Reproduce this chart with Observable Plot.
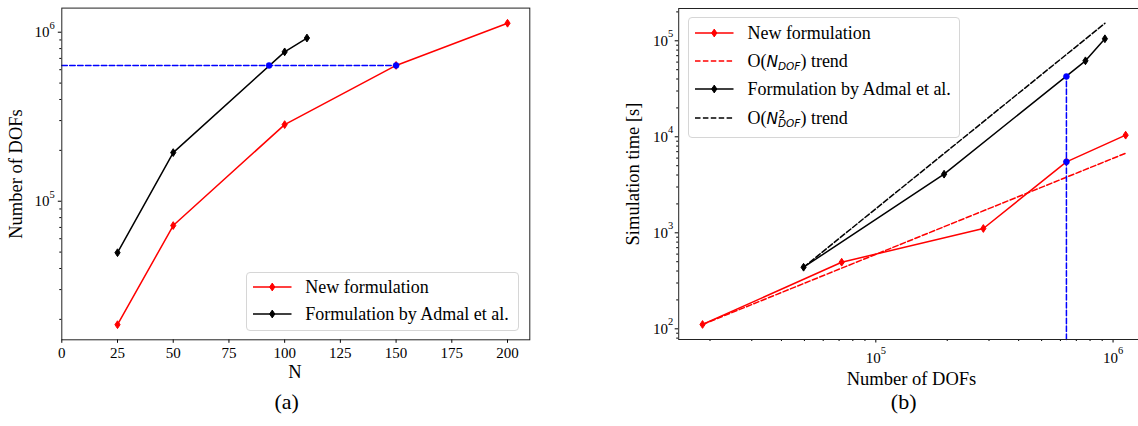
<!DOCTYPE html>
<html><head><meta charset="utf-8">
<script src="https://cdn.jsdelivr.net/npm/d3@7"></script>
<script src="https://cdn.jsdelivr.net/npm/@observablehq/plot@0.6"></script>
<style>
html,body{margin:0;padding:0;background:#fff;overflow:hidden;}
#page{position:relative;width:1138px;height:426px;overflow:hidden;font-family:"Liberation Serif","DejaVu Serif","Times New Roman",serif;color:#000;}
#page svg.plot{position:absolute;top:0;}
.lbl{position:absolute;font-size:18.5px;white-space:nowrap;transform:translate(-50%,-50%);line-height:1;}
.ylbl{transform:translate(-50%,-50%) rotate(-90deg);}
.cap{position:absolute;font-size:22px;transform:translate(-50%,-50%);line-height:1;}
.legend{position:absolute;border:1px solid #d6d6d6;border-radius:4px;background:rgba(255,255,255,0.85);box-sizing:border-box;}
.sample{position:absolute;overflow:visible;}
.ltext{position:absolute;font-size:18px;white-space:nowrap;transform:translateY(-50%);line-height:1;}
.mi{font-family:"DejaVu Sans",sans-serif;font-style:italic;font-size:15.5px;}
.sub{font-family:"DejaVu Sans",sans-serif;font-style:italic;font-size:10.5px;position:relative;top:3px;}
.sd{display:inline-block;font-family:"DejaVu Sans",sans-serif;font-style:italic;font-size:10.5px;line-height:8px;height:8px;position:relative;top:3px;}
.s2{position:absolute;left:0.5px;top:-8.1px;display:block;line-height:7px;height:7px;font-family:"DejaVu Sans",sans-serif;font-style:normal;font-size:10.5px;}
</style>
</head><body>
<div id="page"></div>
<script>
// ---------- data ----------
const nValues   = [25, 50, 100, 150, 200];
const newDofs   = [18600, 71800, 284000, 636000, 1130000];
const newTime   = [111, 494, 1109, 5490, 10400];
const admalN    = [25, 50, 100, 110];
const admalDofs = [49600, 194000, 765000, 924000];
const admalTime = [438, 4080, 61900, 105000];
const linTrendDofs  = [18600, 1130000];
const linTrendTime  = [111, 6740];
const quadTrendDofs = [49600, 924000];
const quadTrendTime = [438, 152000];
const equalDofs = 636000;
const equalN    = [93, 150];      // Admal, New at equal DOFs
const equalTime = [42500, 5490];  // Admal, New at equal DOFs

// ---------- ticks ----------
const xTicksA  = [0, 25, 50, 75, 100, 125, 150, 175, 200];
const yMajorA  = [1e5, 1e6];
const yMinorA  = [2e4, 3e4, 4e4, 5e4, 6e4, 7e4, 8e4, 9e4, 2e5, 3e5, 4e5, 5e5, 6e5, 7e5, 8e5, 9e5];
const xMajorB  = [1e5, 1e6];
const xMinorB  = [2e4, 3e4, 4e4, 5e4, 6e4, 7e4, 8e4, 9e4, 2e5, 3e5, 4e5, 5e5, 6e5, 7e5, 8e5, 9e5];
const yMajorB  = [1e2, 1e3, 1e4, 1e5];
const yMinorB  = [80, 90, 200, 300, 400, 500, 600, 700, 800, 900, 2000, 3000, 4000, 5000, 6000, 7000, 8000, 9000,
                  20000, 30000, 40000, 50000, 60000, 70000, 80000, 90000, 200000];

const RED = "#ff0000", BLACK = "#000000", BLUE = "#0000ff";
const DASH = "5.5,2.4";

const diamond = {draw(ctx) { const h = 3.9, w = 2.6; ctx.moveTo(0, -h); ctx.lineTo(w, 0); ctx.lineTo(0, h); ctx.lineTo(-w, 0); ctx.closePath(); }};
const pow10 = d => "10^" + Math.round(Math.log10(d));

const newA   = nValues.map((n, i) => ({x: n, y: newDofs[i]}));
const admalA = admalN.map((n, i) => ({x: n, y: admalDofs[i]}));
const blueLineA = [{x: 0, y: equalDofs}, {x: equalN[1], y: equalDofs}];
const bluePtsA  = equalN.map(n => ({x: n, y: equalDofs}));

const newB   = newDofs.map((d, i) => ({x: d, y: newTime[i]}));
const admalB = admalDofs.map((d, i) => ({x: d, y: admalTime[i]}));
const linB   = linTrendDofs.map((d, i) => ({x: d, y: linTrendTime[i]}));
const quadB  = quadTrendDofs.map((d, i) => ({x: d, y: quadTrendTime[i]}));
const yDomB  = [77.4, 217000];
const blueLineB = [{x: equalDofs, y: yDomB[0]}, {x: equalDofs, y: equalTime[0]}];
const bluePtsB  = equalTime.map(t => ({x: equalDofs, y: t}));

const baseStyle = {fontFamily: "'Liberation Serif', 'DejaVu Serif', 'Times New Roman', serif", fontSize: "15px", background: "transparent", overflow: "visible", color: "#000"};

const plotA = Plot.plot({
  width: 540, height: 380,
  marginLeft: 61.3, marginRight: 10.7, marginTop: 7.6, marginBottom: 40.7,
  style: baseStyle,
  x: {domain: [0, 210]},
  y: {type: "log", domain: [15140, 1389000]},
  marks: [
    Plot.axisX({ticks: xTicksA, tickSize: 3.5, tickPadding: 4, tickFormat: d => String(d), label: null}),
    Plot.axisY({ticks: yMajorA, tickSize: 3.5, tickPadding: 3.5, tickFormat: pow10, label: null}),
    Plot.axisY({ticks: yMinorA, tickSize: 2, tickFormat: () => "", label: null}),
    Plot.line(admalA, {x: "x", y: "y", stroke: BLACK, strokeWidth: 1.5}),
    Plot.dot(admalA, {x: "x", y: "y", symbol: diamond, fill: BLACK, stroke: BLACK, strokeWidth: 1}),
    Plot.line(newA, {x: "x", y: "y", stroke: RED, strokeWidth: 1.5}),
    Plot.dot(newA, {x: "x", y: "y", symbol: diamond, fill: RED, stroke: RED, strokeWidth: 1}),
    Plot.line(blueLineA, {x: "x", y: "y", stroke: BLUE, strokeWidth: 1.5, strokeDasharray: DASH}),
    Plot.dot(bluePtsA, {x: "x", y: "y", r: 3, fill: BLUE, stroke: BLUE, strokeWidth: 0.5}),
    Plot.frame({stroke: "#222", strokeWidth: 1})
  ]
});

const plotB = Plot.plot({
  width: 600, height: 380,
  marginLeft: 118.2, marginRight: 13.6, marginTop: 8, marginBottom: 41,
  style: baseStyle,
  x: {type: "log", domain: [14760, 1389000]},
  y: {type: "log", domain: yDomB},
  marks: [
    Plot.axisX({ticks: xMajorB, tickSize: 3.5, tickPadding: 9, tickFormat: pow10, label: null}),
    Plot.axisX({ticks: xMinorB, tickSize: 2, tickFormat: () => "", label: null}),
    Plot.axisY({ticks: yMajorB, tickSize: 3.5, tickPadding: 2, tickFormat: pow10, label: null}),
    Plot.axisY({ticks: yMinorB, tickSize: 2, tickFormat: () => "", label: null}),
    Plot.line(quadB, {x: "x", y: "y", stroke: BLACK, strokeWidth: 1.5, strokeDasharray: DASH}),
    Plot.line(linB, {x: "x", y: "y", stroke: RED, strokeWidth: 1.5, strokeDasharray: DASH}),
    Plot.line(admalB, {x: "x", y: "y", stroke: BLACK, strokeWidth: 1.5}),
    Plot.dot(admalB, {x: "x", y: "y", symbol: diamond, fill: BLACK, stroke: BLACK, strokeWidth: 1}),
    Plot.line(newB, {x: "x", y: "y", stroke: RED, strokeWidth: 1.5}),
    Plot.dot(newB, {x: "x", y: "y", symbol: diamond, fill: RED, stroke: RED, strokeWidth: 1}),
    Plot.line(blueLineB, {x: "x", y: "y", stroke: BLUE, strokeWidth: 1.5, strokeDasharray: DASH}),
    Plot.dot(bluePtsB, {x: "x", y: "y", r: 3, fill: BLUE, stroke: BLUE, strokeWidth: 0.5}),
    Plot.frame({stroke: "#222", strokeWidth: 1})
  ]
});

const NS = "http://www.w3.org/2000/svg";
function supify(svg) {
  svg.querySelectorAll("text").forEach(t => {
    const m = /^10\^(-?\d+)$/.exec(t.textContent);
    if (!m) return;
    t.textContent = "";
    const a = document.createElementNS(NS, "tspan"); a.textContent = "10";
    const b = document.createElementNS(NS, "tspan"); b.textContent = m[1];
    b.setAttribute("font-size", "10.5px"); b.setAttribute("dy", "-8.5");
    t.appendChild(a); t.appendChild(b);
  });
}
supify(plotA); supify(plotB);
plotA.classList.add("plot"); plotB.classList.add("plot");
plotA.style.left = "0px"; plotB.style.left = "560px";

const page = document.getElementById("page");
page.appendChild(plotA); page.appendChild(plotB);

function el(html, cls, x, y) {
  const d = document.createElement("div"); d.className = cls; d.innerHTML = html;
  d.style.left = x + "px"; d.style.top = y + "px"; page.appendChild(d); return d;
}
el("Number of DOFs", "lbl ylbl", 15.5, 173.7);
el("N", "lbl", 295, 371.5);
el("Simulation time [s]", "lbl ylbl", 633.4, 174);
el("Number of DOFs", "lbl", 911.5, 378.5);
el("(a)", "cap", 286.7, 402);
el("(b)", "cap", 903.7, 402);

function sampleSVG(color, dashed, marker) {
  let s = `<svg class="sample" width="40" height="12" viewBox="0 0 40 12"><line x1="0" y1="6" x2="38.5" y2="6" stroke="${color}" stroke-width="1.5"${dashed ? ` stroke-dasharray="${DASH}"` : ""}/>`;
  if (marker) s += `<path d="M19.25,2.1L21.85,6L19.25,9.9L16.65,6Z" fill="${color}" stroke="${color}" stroke-width="1"/>`;
  return s + "</svg>";
}
function legend(box, entries) {
  const L = document.createElement("div"); L.className = "legend";
  L.style.left = box.left + "px"; L.style.top = box.top + "px";
  L.style.width = box.width + "px"; L.style.height = box.height + "px";
  entries.forEach(e => {
    const s = document.createElement("div"); s.innerHTML = sampleSVG(e.color, e.dashed, e.marker);
    const svg = s.firstChild; svg.style.left = box.lineX + "px"; svg.style.top = (e.y - 6) + "px";
    L.appendChild(svg);
    const t = document.createElement("div"); t.className = "ltext"; t.innerHTML = e.label;
    t.style.left = box.textX + "px"; t.style.top = e.y + "px"; L.appendChild(t);
  });
  page.appendChild(L);
}
legend({left: 246.2, top: 272, width: 273.1, height: 59, lineX: 6.3, textX: 58.1}, [
  {label: "New formulation", color: RED, dashed: false, marker: true, y: 14},
  {label: "Formulation by Admal et al.", color: BLACK, dashed: false, marker: true, y: 41}
]);
legend({left: 688.3, top: 17.3, width: 271.7, height: 121, lineX: 5.7, textX: 58.1}, [
  {label: "New formulation", color: RED, dashed: false, marker: true, y: 14.4},
  {label: 'O(<span class="mi">N</span><span class="sub">DOF</span>) trend', color: RED, dashed: true, marker: false, y: 42.7},
  {label: "Formulation by Admal et al.", color: BLACK, dashed: false, marker: true, y: 71.2},
  {label: 'O(<span class="mi">N</span><span class="sd"><span class="s2">2</span>DOF</span>) trend', color: BLACK, dashed: true, marker: false, y: 99.7}
]);
</script>
</body></html>
